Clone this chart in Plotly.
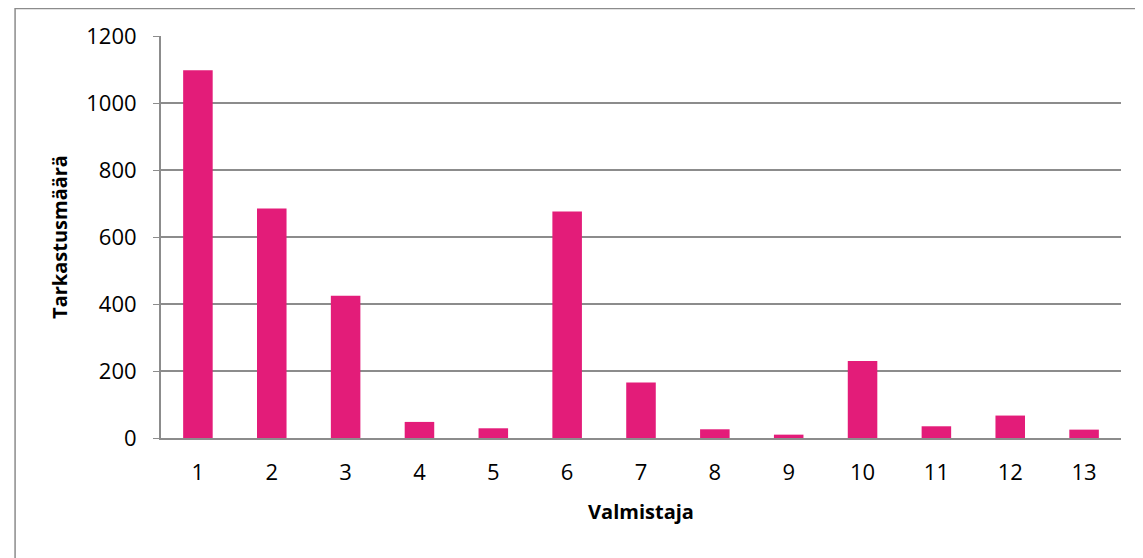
import plotly.graph_objects as go

categories = [str(i) for i in range(1, 14)]
values = [1098, 685, 425, 48, 29, 676, 166, 26, 10, 230, 35, 67, 25]
y_ticks = [0, 200, 400, 600, 800, 1000, 1200]

# page is rendered with an 8px vertical offset
W, H = 1143, 550
ml, mt = 153, 28
pw, ph = 960.5, 402.5
mr, mb = W - ml - pw, H - mt - ph

fig = go.Figure(go.Bar(x=categories, y=values, marker=dict(color="#E31C79", line=dict(width=0)), width=0.4))

fig.update_layout(
    width=W, height=H,
    margin=dict(l=ml, r=mr, t=mt, b=mb, pad=0),
    paper_bgcolor="white", plot_bgcolor="white",
    font=dict(family="Open Sans, sans-serif", size=22, color="black"),
    showlegend=False,
    xaxis=dict(
        type="category", showgrid=False, showline=True, linecolor="#8c8c8c", linewidth=2,
        ticks="", tickfont=dict(size=22), ticklabelstandoff=14,
        title=dict(text="<b>Valmistaja</b>", font=dict(size=20), standoff=20),
    ),
    yaxis=dict(
        range=[0, 1200], tickvals=y_ticks, showgrid=True, gridcolor="#8c8c8c", gridwidth=1.5,
        showline=True, linecolor="#8c8c8c", linewidth=2, ticks="outside", ticklen=6, tickcolor="#8c8c8c",
        tickfont=dict(size=22), zeroline=False, ticklabelstandoff=12,
        title=dict(text="<b>Tarkastusmäärä</b>", font=dict(size=20), standoff=13),
    ),
    shapes=[dict(type="rect", xref="paper", yref="paper",
                 x0=-(ml - 7) / pw, x1=(W - 1.5 - ml) / pw,
                 y0=-(mb + 20) / ph, y1=(ph + mt - 0.5) / ph,
                 line=dict(color="#8c8c8c", width=1.5), fillcolor="rgba(0,0,0,0)")],
)

fig.write_html("out.html")
